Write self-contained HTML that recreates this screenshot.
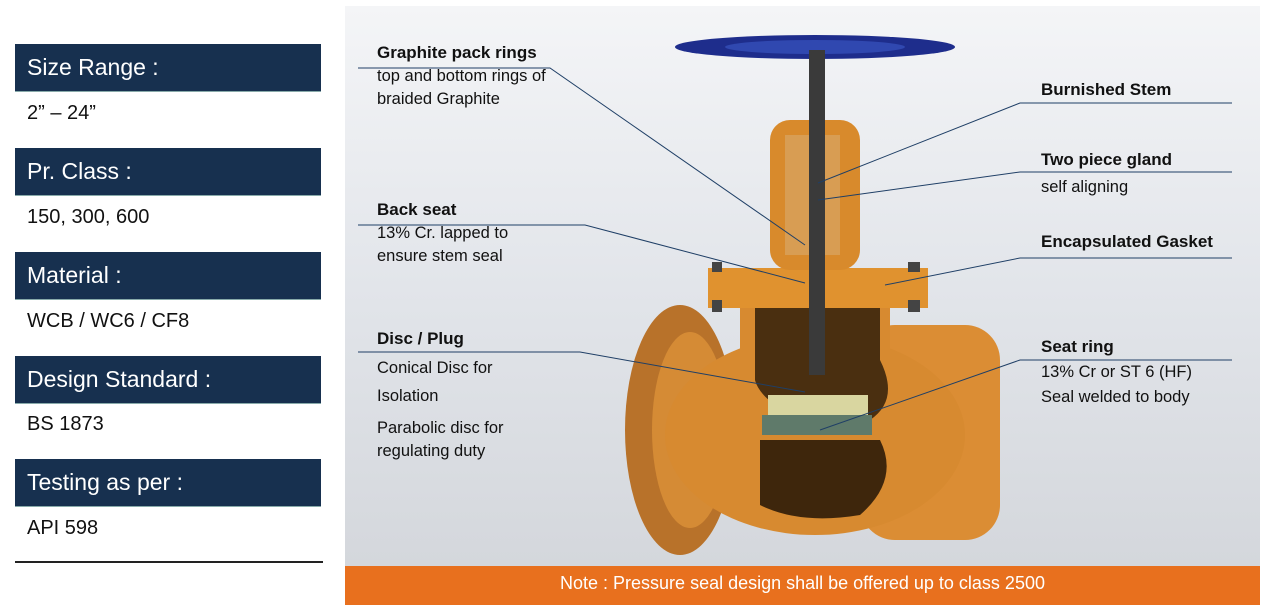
<!DOCTYPE html>
<html><head><meta charset="utf-8"><style>
body{margin:0;width:1269px;height:616px;background:#fff;position:relative;overflow:hidden;font-family:"Liberation Sans",sans-serif}
.h{position:absolute;left:15px;width:306px;height:48px;background:#17304f;color:#fff;font-size:23px;line-height:46px;padding-left:12px;box-sizing:border-box;border-bottom:1px solid #8aa}
.v{position:absolute;left:27px;font-size:20px;color:#111}
.lab{position:absolute;font-size:16.5px;color:#111;line-height:23px}
.lab b{font-size:17px}
</style></head><body>
<div class="h" style="top:44px">Size Range :</div><div class="v" style="top:102px">2” – 24”</div>
<div class="h" style="top:148px">Pr. Class :</div><div class="v" style="top:206px">150, 300, 600</div>
<div class="h" style="top:252px">Material :</div><div class="v" style="top:310px">WCB / WC6 / CF8</div>
<div class="h" style="top:356px">Design Standard :</div><div class="v" style="top:413px">BS 1873</div>
<div class="h" style="top:459px">Testing as per :</div><div class="v" style="top:517px">API 598</div>
<div style="position:absolute;left:15px;top:561px;width:308px;height:2px;background:#222"></div>

<div style="position:absolute;left:345px;top:6px;width:915px;height:560px;background:linear-gradient(#f4f5f7,#e2e5ea 50%,#d4d7dc)"></div>

<svg style="position:absolute;left:0;top:0" width="1269" height="616">
<ellipse cx="680" cy="430" rx="55" ry="125" fill="#b8722a"/>
<ellipse cx="690" cy="430" rx="38" ry="98" fill="#d58b35"/>
<rect x="860" y="325" width="140" height="215" rx="35" fill="#db8d34"/>
<ellipse cx="815" cy="435" rx="150" ry="100" fill="#d78a30"/>
<rect x="740" y="290" width="150" height="100" fill="#d78a30"/>
<path d="M755 295 H880 V360 Q900 400 870 420 L800 420 Q760 400 755 380Z" fill="#4a2f10"/>
<path d="M760 440 H880 Q900 480 860 515 Q800 525 760 505Z" fill="#3e260c"/>
<rect x="708" y="268" width="220" height="40" fill="#e0922f"/>
<rect x="770" y="120" width="90" height="150" rx="20" fill="#d88a2c"/>
<rect x="785" y="135" width="55" height="120" fill="#d8b07a" opacity=".5"/>
<ellipse cx="815" cy="47" rx="140" ry="12" fill="#1e2d8c"/>
<ellipse cx="815" cy="47" rx="90" ry="7" fill="#3048b0"/>
<rect x="809" y="50" width="16" height="325" fill="#3a3a3a"/>
<rect x="768" y="395" width="100" height="22" fill="#d9d6a0"/>
<rect x="762" y="415" width="110" height="20" fill="#5f7a6a"/>
<g fill="#444"><rect x="712" y="262" width="10" height="10"/><rect x="908" y="262" width="12" height="10"/><rect x="712" y="300" width="10" height="12"/><rect x="908" y="300" width="12" height="12"/></g>
<g stroke="#1f3f66" stroke-width="1" fill="none">
<polyline points="358,68 550,68 805,245"/>
<polyline points="358,225 585,225 805,283"/>
<polyline points="358,352 580,352 805,392"/>
<polyline points="1232,103 1020,103 818,183"/>
<polyline points="1232,172 1020,172 818,200"/>
<polyline points="1232,258 1020,258 885,285"/>
<polyline points="1232,360 1020,360 820,430"/>
</g>
</svg>
<div style="position:absolute;left:345px;top:566px;width:915px;height:39px;background:#e8701e;color:#fff;font-size:18px;line-height:34px;text-align:center">Note : Pressure seal design shall be offered up to class 2500</div>

<div class="lab" style="left:377px;top:41px"><b>Graphite pack rings</b><br>top and bottom rings of<br>braided Graphite</div>
<div class="lab" style="left:377px;top:198px"><b>Back seat</b><br>13% Cr. lapped to<br>ensure stem seal</div>
<div class="lab" style="left:377px;top:327px"><b>Disc / Plug</b><br><span style="line-height:34px">Conical Disc for</span><br>Isolation</div>
<div class="lab" style="left:377px;top:417px">Parabolic disc for<br>regulating duty</div>
<div class="lab" style="left:1041px;top:78px"><b>Burnished Stem</b></div>
<div class="lab" style="left:1041px;top:148px"><b>Two piece gland</b><br><span style="line-height:30px">self aligning</span></div>
<div class="lab" style="left:1041px;top:230px"><b>Encapsulated Gasket</b></div>
<div class="lab" style="left:1041px;top:335px"><b>Seat ring</b><br><span style="line-height:27px">13% Cr or ST 6 (HF)</span><br>Seal welded to body</div>
</body></html>
